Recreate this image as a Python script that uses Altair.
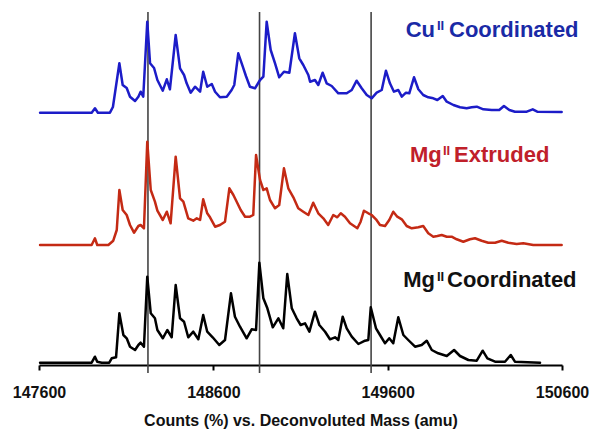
import altair as alt
import pandas as pd

# ---- data (mass in amu, counts in %) ----
cu_mass = [147606, 147902, 147921, 147938, 148007, 148024, 148061, 148080, 148103, 148122,
           148151, 148170, 148183, 148198, 148221, 148237, 148260, 148279, 148310, 148333,
           148351, 148384, 148409, 148432, 148447, 148470, 148495, 148524, 148542, 148565,
           148591, 148610, 148638, 148677, 148705, 148720, 148743, 148769, 148787, 148810,
           148839, 148868, 148887, 148906, 148929, 148954, 148978, 149005, 149036, 149068,
           149093, 149116, 149145, 149155, 149183, 149202, 149227, 149250, 149279, 149317,
           149365, 149394, 149422, 149451, 149480, 149508, 149537, 149566, 149590, 149613,
           149636, 149661, 149681, 149705, 149724, 149751, 149776, 149804, 149833, 149862,
           149885, 149916, 149939, 149977, 150015, 150053, 150082, 150111, 150149, 150197,
           150240, 150267, 150298, 150330, 150398, 150432, 150458, 150598]
cu_counts = [0, 0, 4.4, 0, 0, 5.7, 49.4, 27.7, 24.7, 16,
             11.7, 16, 21, 16, 91, 49.4, 44.7, 32.7, 22, 33.4,
             23.4, 77.7, 44.4, 37.7, 29.4, 20, 26, 21, 41, 26,
             28.7, 21, 15.4, 16, 22.7, 27.7, 59.4, 46, 36.7, 26,
             24.4, 32.7, 36, 91, 62.7, 49.4, 35.4, 41, 40, 79.4,
             54.4, 47.7, 37.7, 31, 32.7, 27.7, 40, 29.4, 26.7, 19.4,
             19.4, 22.7, 32, 24.4, 17.7, 14.4, 20, 22.7, 42, 29.4,
             21, 22.7, 16, 20, 19.4, 35.4, 23.4, 17.7, 15.4, 14.4,
             12.7, 16.7, 11, 7.7, 5.4, 4.4, 5.4, 6, 3.4, 2.7,
             2.7, 6.7, 2.7, 1, 1, 3.4, 1, 0.7]

mgx_mass = [147606, 147902, 147921, 147934, 147998, 148026, 148046, 148061, 148080, 148103,
            148122, 148145, 148170, 148183, 148202, 148221, 148241, 148265, 148279, 148310,
            148333, 148355, 148384, 148409, 148428, 148456, 148485, 148505, 148524, 148542,
            148565, 148581, 148610, 148638, 148667, 148692, 148715, 148734, 148757, 148782,
            148810, 148829, 148845, 148868, 148887, 148906, 148925, 148954, 148978, 149005,
            149030, 149059, 149087, 149116, 149145, 149173, 149202, 149231, 149259, 149288,
            149311, 149331, 149355, 149384, 149426, 149445, 149464, 149489, 149508, 149533,
            149556, 149585, 149609, 149632, 149655, 149681, 149709, 149738, 149776, 149804,
            149833, 149862, 149885, 149910, 149939, 149967, 149996, 150034, 150072, 150101,
            150139, 150177, 150216, 150254, 150292, 150340, 150378, 150435, 150598]
mgx_counts = [0, 0, 6.7, 0, 0, 4.3, 15, 55, 35, 30,
              20, 12.3, 19, 20, 16.7, 103.3, 55, 43.3, 34.3, 25,
              33.3, 21.7, 88.3, 46.7, 43.3, 26.7, 24.3, 26.7, 25, 45.7,
              31.7, 27.7, 18.3, 20, 23.3, 56.7, 50, 43.3, 35, 28.3,
              28.3, 30, 90, 65, 55, 56.7, 45, 36.7, 40, 76.7,
              56.7, 47.7, 36.7, 33.3, 30, 42.3, 31.7, 26.7, 20, 30,
              27.7, 31.7, 28.3, 21.7, 16.7, 23.3, 34.3, 31.7, 30, 25.7,
              20, 19, 25, 33.3, 28.3, 25.7, 19, 16.7, 17.7, 19,
              11.7, 8.3, 9, 10, 8.3, 8.3, 5.7, 3.3, 5.7, 6.7,
              4.3, 2.3, 2.3, 4.3, 2.3, 1, 1.7, 0, 0]

mgc_mass = [147606, 147902, 147921, 147934, 147960, 148003, 148017, 148042, 148061, 148084,
            148103, 148122, 148151, 148170, 148183, 148202, 148221, 148241, 148265, 148279,
            148310, 148336, 148361, 148384, 148409, 148432, 148456, 148485, 148514, 148542,
            148565, 148596, 148634, 148667, 148701, 148724, 148753, 148791, 148820, 148845,
            148864, 148887, 148910, 148941, 148973, 149001, 149024, 149050, 149078, 149101,
            149126, 149151, 149183, 149208, 149241, 149269, 149298, 149317, 149342, 149365,
            149394, 149432, 149470, 149489, 149503, 149533, 149556, 149585, 149609, 149632,
            149661, 149690, 149718, 149757, 149795, 149824, 149853, 149890, 149939, 149981,
            150015, 150063, 150111, 150145, 150172, 150216, 150273, 150306, 150330, 150474]
mgc_counts = [0, 0, 6, 1, 0, 0, 4.4, 5.4, 49.4, 27.7,
              24.4, 16, 12.7, 17.7, 20, 16, 86, 49.4, 44.4, 32.7,
              24.4, 32.7, 25.4, 77.7, 44.4, 41, 25.4, 31, 23.4, 47.7,
              31, 25.4, 17.7, 22.7, 69.4, 46, 36, 24.4, 33.4, 32.7,
              100, 64.4, 54.4, 35.4, 44.4, 34.4, 88.7, 54.4, 44.4, 37.7,
              39.4, 31, 51, 37.7, 31, 23.4, 25.4, 22.7, 46, 34.4,
              26, 18.7, 22, 22.7, 55.4, 34.4, 27.7, 19.4, 24.4, 19.4,
              45.4, 27.7, 22.7, 16, 17.7, 22, 12.7, 9.4, 6.7, 12.7,
              6.7, 2.7, 2, 12, 4.4, 1, 1, 7.7, 1, 0]

series_names = ["Cu Coordinated", "Mg Extruded", "Mg Coordinated"]
series_offsets = {"Cu Coordinated": 252.3, "Mg Extruded": 120.0, "Mg Coordinated": 2.3}
series_colors = ["#1c1cc8", "#c42a14", "#000000"]

marker_masses = [148225, 148865, 149505]
tick_values = [147600, 148600, 149600, 150600]

# ---- build long table ----
rows = []
for name, ms, cs in [("Cu Coordinated", cu_mass, cu_counts),
                     ("Mg Extruded", mgx_mass, mgx_counts),
                     ("Mg Coordinated", mgc_mass, mgc_counts)]:
    for m, c in zip(ms, cs):
        rows.append({"mass": m, "counts": c, "y": c + series_offsets[name], "series": name})
df = pd.DataFrame(rows)
df_rules = pd.DataFrame({"mass": marker_masses})

FONT = "Liberation Sans"

x_enc = alt.X("mass:Q",
              scale=alt.Scale(domain=[147600, 150600], nice=False, zero=False),
              axis=alt.Axis(values=tick_values, format="d", grid=False,
                            title="Counts (%) vs. Deconvoluted Mass (amu)",
                            labelFont=FONT, labelFontSize=16, labelFontWeight="bold",
                            labelColor="#111111", labelFlush=False, labelOverlap=False,
                            labelPadding=14,
                            titleFont=FONT, titleFontSize=16, titleFontWeight="bold",
                            titleColor="#111111", titlePadding=12,
                            domainColor="#000000", domainWidth=2,
                            tickColor="#000000", tickWidth=2, tickSize=5))

lines = alt.Chart(df).mark_line(strokeWidth=2.5, interpolate="linear",
                                strokeJoin="round", strokeCap="round").encode(
    x=x_enc,
    y=alt.Y("y:Q", scale=alt.Scale(domain=[0, 355]), axis=None),
    color=alt.Color("series:N", scale=alt.Scale(domain=series_names, range=series_colors),
                    legend=None),
    detail="series:N",
)

rules = alt.Chart(df_rules).mark_rule(color="#444444", strokeWidth=1.6).encode(
    x="mass:Q",
    y=alt.value(2),
    y2=alt.value(363),
)


def label(text, x, y, size, color, align="left"):
    return alt.Chart(pd.DataFrame({"t": [text]})).mark_text(
        font=FONT, fontSize=size, fontWeight="bold", color=color,
        align=align, baseline="alphabetic"
    ).encode(text="t:N", x=alt.value(x), y=alt.value(y))


blue_t = "#1a2aa6"
red_t = "#c0202a"
black_t = "#111111"

texts = [
    label("Cu", 396, 27.3, 22, blue_t, "right"),
    label("II", 398, 20, 13, blue_t),
    label("Coordinated", 410, 27.3, 22, blue_t),
    label("Mg", 402.7, 151.7, 22, red_t, "right"),
    label("II", 404, 145, 13, red_t),
    label("Extruded", 415, 151.7, 22, red_t),
    label("Mg", 396, 277.3, 22, black_t, "right"),
    label("II", 398, 270.7, 13, black_t),
    label("Coordinated", 408, 277.3, 22, black_t),
]

chart = alt.layer(rules, lines, *texts).properties(
    width=523, height=355,
    autosize=alt.AutoSizeParams(type="none"),
    padding={"left": 39, "top": 10, "right": 28, "bottom": 65},
    background="white",
).configure_view(stroke=None)

chart.save("out.html", embed_options={"renderer": "svg", "actions": False})
